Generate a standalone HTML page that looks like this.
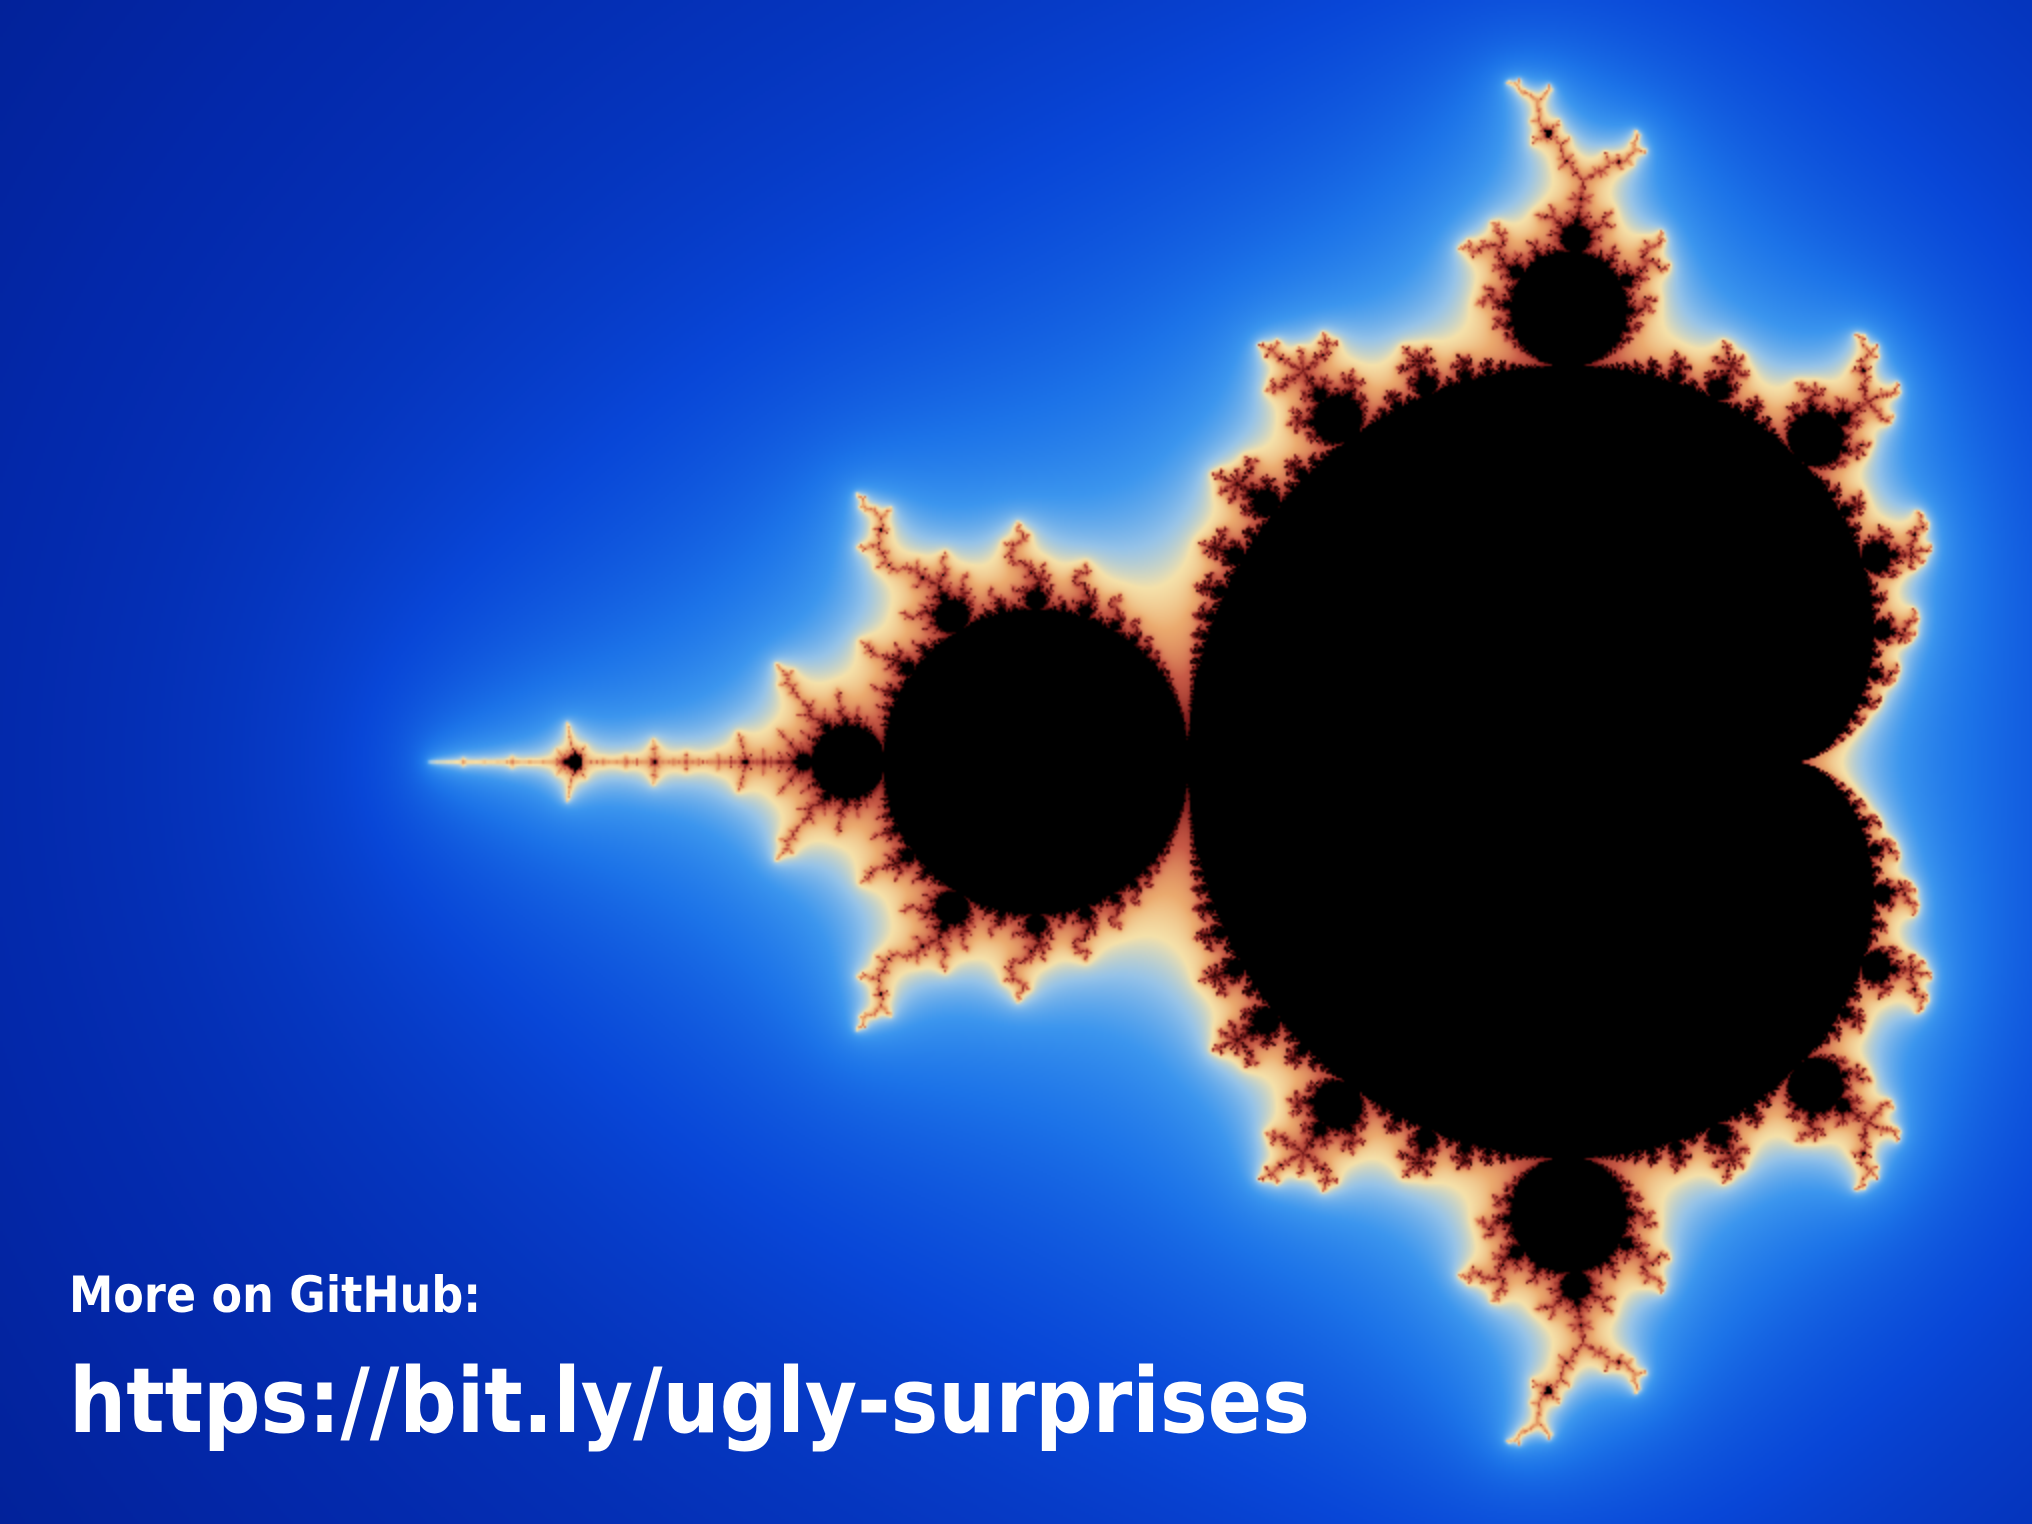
<!DOCTYPE html>
<html><head><meta charset="utf-8"><style>
html,body{margin:0;padding:0;width:2032px;height:1524px;overflow:hidden;background:#0a3ccc}
#frac{position:absolute;left:0;top:0;width:2032px;height:1524px}
svg{position:absolute;left:0;top:0}
</style></head><body>
<canvas id="frac" width="1016" height="762"></canvas>
<svg width="2032" height="1524">
<text x="69" y="1312" font-family="DejaVu Sans, Liberation Sans, sans-serif" font-weight="bold" font-size="50" fill="#fff" textLength="412" lengthAdjust="spacingAndGlyphs">More on GitHub:</text>
<text x="69" y="1432" font-family="DejaVu Sans, Liberation Sans, sans-serif" font-weight="bold" font-size="90" fill="#fff" textLength="1241" lengthAdjust="spacingAndGlyphs">https://bit.ly/ugly-surprises</text>
</svg>
<script>
const xRange=[-2.703,0.636];
const yCenter=0.0;
const maxIter=300;
const stopsMu=[0,3.9,5.2,6.6,8.2,9.8,11.6,13.6,17,25,45,100];
const stopsCol=[[0,5,60],[0,14,100],[3,40,170],[8,70,215],[28,115,232],[60,150,238],[150,195,232],[245,225,170],[235,170,110],[200,90,70],[130,30,30],[45,5,5]];
const cv=document.getElementById('frac');const ctx=cv.getContext('2d');
const W=cv.width,H=cv.height;const img=ctx.createImageData(W,H);const d=img.data;
const sc=(xRange[1]-xRange[0])/W;
function col(mu){if(mu>=stopsMu[stopsMu.length-1])return stopsCol[stopsCol.length-1];
for(let i=0;i<stopsMu.length-1;i++){if(mu<stopsMu[i+1]){const t=(mu-stopsMu[i])/(stopsMu[i+1]-stopsMu[i]);const a=stopsCol[i],b=stopsCol[i+1];return [a[0]+(b[0]-a[0])*t,a[1]+(b[1]-a[1])*t,a[2]+(b[2]-a[2])*t];}}return stopsCol[0];}
for(let py=0;py<H;py++){const ci=yCenter+(H/2-py-0.5)*sc;
for(let px=0;px<W;px++){const cr=xRange[0]+(px+0.5)*sc;let zr=0,zi=0,n=0,r2=0;
while(n<maxIter){const t=zr*zr-zi*zi+cr;zi=2*zr*zi+ci;zr=t;r2=zr*zr+zi*zi;n++;if(r2>1e6)break;}
const k=(py*W+px)*4;let c;
if(n>=maxIter)c=[0,0,0];else{let mu=n+1-Math.log(Math.log(Math.sqrt(r2))/Math.log(1e3))/Math.LN2;if(mu<0)mu=0;c=col(mu);}
d[k]=c[0];d[k+1]=c[1];d[k+2]=c[2];d[k+3]=255;}}
ctx.putImageData(img,0,0);
</script>
</body></html>
